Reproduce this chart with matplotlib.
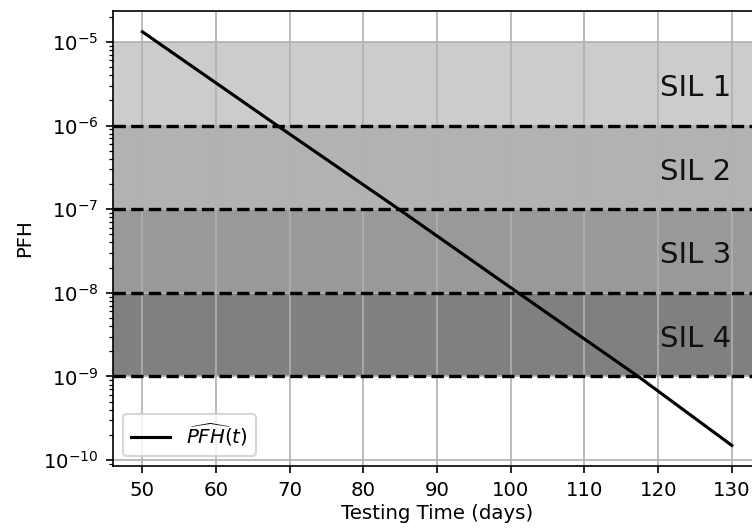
import numpy as np
import matplotlib
matplotlib.use("Agg")
import matplotlib.pyplot as plt

# line (PFH vs testing interval)
t_days = [50, 68.3, 84.8, 101.0, 117.3, 130]
pfh = [1.32e-5, 1e-6, 1e-7, 1e-8, 1e-9, 1.5e-10]
x_ticks = [50, 60, 70, 80, 90, 100, 110, 120, 130]
y_ticks = [1e-10, 1e-9, 1e-8, 1e-7, 1e-6, 1e-5]

# SIL bands: (lower, upper) limits and shading
sil_names = ["SIL 1", "SIL 2", "SIL 3", "SIL 4"]
sil_low = [1e-6, 1e-7, 1e-8, 1e-9]
sil_high = [1e-5, 1e-6, 1e-7, 1e-8]
sil_alpha = [0.4, 0.6, 0.8, 1.0]

plt.rcParams['font.size'] = 9.5

fig = plt.figure(figsize=(5.02, 3.54), dpi=150)
ax = fig.add_axes([0.150, 0.1224, 0.861, 0.857])

for name, lo, hi, a in zip(sil_names, sil_low, sil_high, sil_alpha):
    ax.axhspan(lo, hi, color='gray', alpha=a, lw=0)
    ax.axhline(lo, color='k', ls='--', lw=1.6)
    # label sits a little under the geometric middle of the band
    ax.text(120.2, np.sqrt(lo * hi) * 10**-0.05, name, fontsize=14,
            va='center', ha='left', color='#111111')

ax.plot(t_days, pfh, color='k', lw=1.5, label=r'$\widehat{PFH}(t)$')
ax.set_yscale('log')
ax.set_xticks(x_ticks)
ax.set_yticks(y_ticks)
ax.set_xlim(46, 134)
ax.set_ylim(10**-10.07, 10**-4.63)
ax.grid()
ax.set_xlabel('Testing Time (days)', labelpad=2)
ax.set_ylabel('PFH')
ax.legend(loc='lower left')

fig.savefig('out.png', dpi=150)
